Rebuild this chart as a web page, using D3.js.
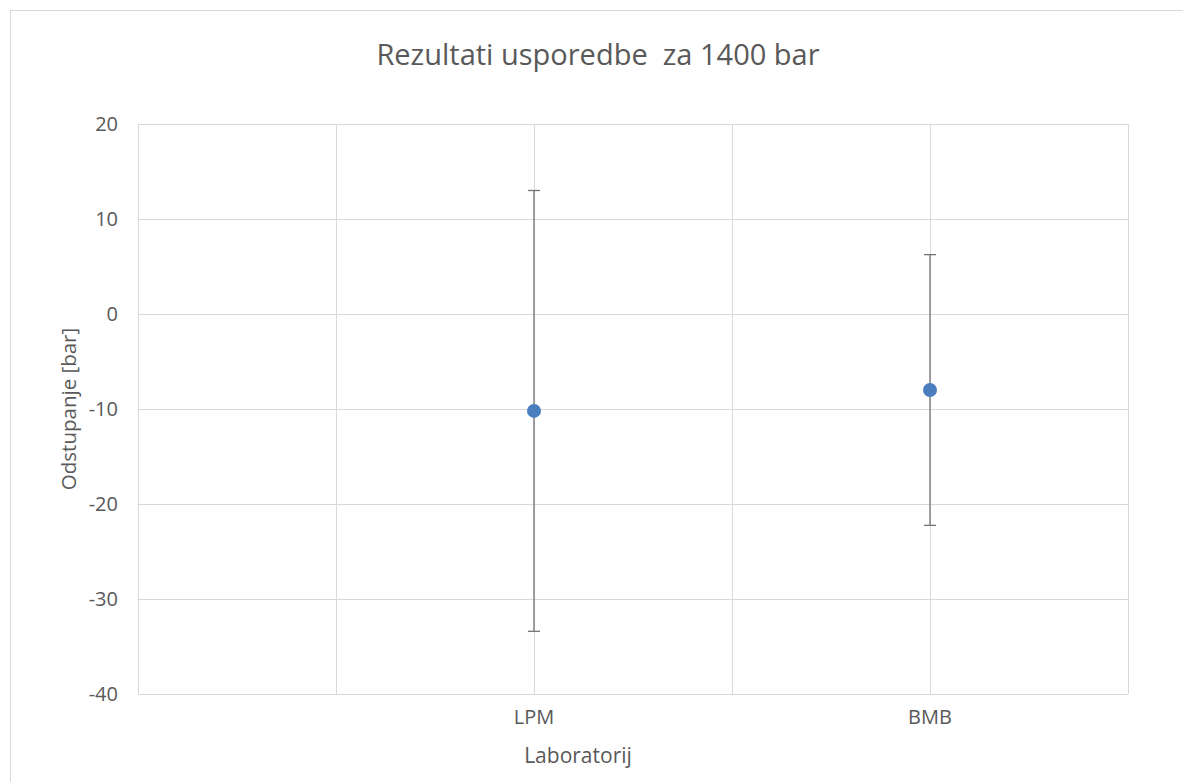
<!DOCTYPE html>
<html>
<head>
<meta charset="utf-8">
<script src="https://cdn.jsdelivr.net/npm/d3@7"></script>
<style>
  body { margin: 0; background: #fff; }
  svg { display: block; }
  text { font-family: "Open Sans", sans-serif; fill: #595959; }
</style>
</head>
<body>
<svg id="chart" width="1183" height="782"></svg>
<script>
// données
const laboratoires = ["LPM", "BMB"]
const positions = [2, 4]
const odstupanje = [-10.2, -8.0]
const nesigurnost = [23.2, 14.25]
const yTicks = [20, 10, 0, -10, -20, -30, -40]
const xGrid = [0, 1, 2, 3, 4, 5]

const svg = d3.select("#chart")

// cadre du graphique
svg.append("rect")
    .attr("x", 10.5).attr("y", 10.5)
    .attr("width", 1200).attr("height", 800)
    .attr("fill", "none").attr("stroke", "#d9d9d9")

const x = d3.scaleLinear().domain([0, 5]).range([138, 1128])
const y = d3.scaleLinear().domain([-40, 20]).range([694, 124])

// grille
svg.append("g").selectAll("line").data(yTicks).join("line")
    .attr("x1", x(0)).attr("x2", x(5))
    .attr("y1", d => Math.round(y(d)) + 0.5).attr("y2", d => Math.round(y(d)) + 0.5)
    .attr("stroke", "#d9d9d9")

svg.append("g").selectAll("line").data(xGrid).join("line")
    .attr("x1", d => Math.round(x(d)) + 0.5).attr("x2", d => Math.round(x(d)) + 0.5)
    .attr("y1", y(20)).attr("y2", y(-40))
    .attr("stroke", "#d9d9d9")

// étiquettes axe Y
svg.append("g").selectAll("text").data(yTicks).join("text")
    .attr("x", 118).attr("y", d => y(d))
    .attr("dy", "0.35em")
    .attr("text-anchor", "end")
    .style("font-size", "20px")
    .text(d => d)

// étiquettes axe X
svg.append("g").selectAll("text").data(laboratoires).join("text")
    .attr("x", (d, i) => x(positions[i]))
    .attr("y", 724)
    .attr("text-anchor", "middle")
    .style("font-size", "20px")
    .text(d => d)

// barres d'erreur
const eb = svg.append("g").attr("stroke", "#737373").attr("stroke-width", 1.3)
laboratoires.forEach(function (lab, i) {
    var cx = x(positions[i])
    var hi = y(odstupanje[i] + nesigurnost[i])
    var lo = y(odstupanje[i] - nesigurnost[i])
    eb.append("line").attr("x1", cx).attr("x2", cx).attr("y1", hi).attr("y2", lo)
    eb.append("line").attr("x1", cx - 6).attr("x2", cx + 6).attr("y1", hi).attr("y2", hi)
    eb.append("line").attr("x1", cx - 6).attr("x2", cx + 6).attr("y1", lo).attr("y2", lo)
})

// points
svg.append("g").selectAll("circle").data(odstupanje).join("circle")
    .attr("cx", (d, i) => x(positions[i]))
    .attr("cy", d => y(d))
    .attr("r", 7)
    .attr("fill", "#4a7ebf")

// titres
svg.append("text")
    .attr("x", 598).attr("y", 65)
    .attr("text-anchor", "middle")
    .style("font-size", "29px")
    .style("white-space", "pre")
    .text("Rezultati usporedbe  za 1400 bar")

svg.append("text")
    .attr("x", 578).attr("y", 763)
    .attr("text-anchor", "middle")
    .style("font-size", "21px")
    .text("Laboratorij")

svg.append("text")
    .attr("transform", "translate(76,409) rotate(-90)")
    .attr("text-anchor", "middle")
    .style("font-size", "20.5px")
    .text("Odstupanje [bar]")
</script>
</body>
</html>
